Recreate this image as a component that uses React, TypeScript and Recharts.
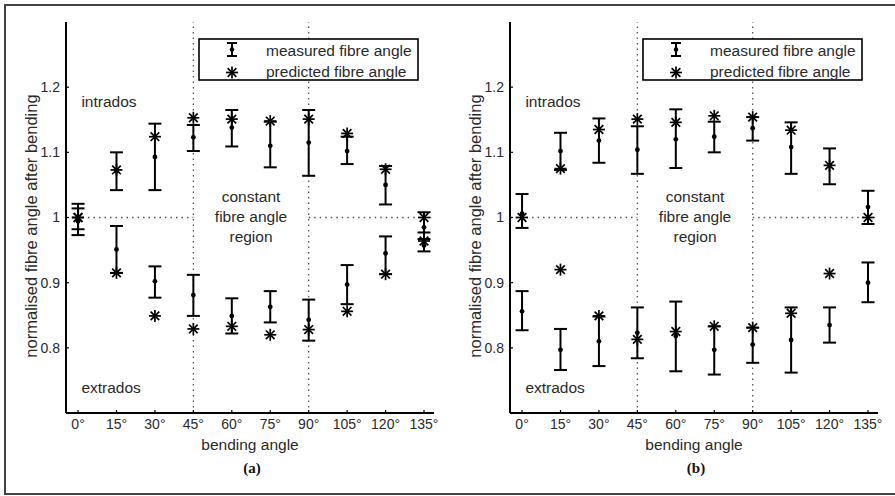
import React from 'react';
import { ComposedChart, Scatter, ErrorBar, XAxis, YAxis, ReferenceLine, ReferenceDot, Legend } from 'recharts';

const angles = [0, 15, 30, 45, 60, 75, 90, 105, 120, 135];
const yTicks = [0.8, 0.9, 1, 1.1, 1.2];

// panel (a)
const inMeanA = [1.0, 1.071, 1.093, 1.123, 1.138, 1.11, 1.115, 1.102, 1.05, 0.985];
const inLowA = [0.982, 1.042, 1.042, 1.102, 1.109, 1.077, 1.064, 1.082, 1.02, 0.967];
const inHighA = [1.021, 1.1, 1.144, 1.142, 1.165, 1.147, 1.165, 1.124, 1.079, 1.008];
const inPredA = [1.0, 1.073, 1.124, 1.153, 1.151, 1.148, 1.151, 1.129, 1.074, 1.0];
const exMeanA = [0.994, 0.951, 0.902, 0.881, 0.849, 0.863, 0.843, 0.897, 0.945, 0.957];
const exLowA = [0.973, 0.915, 0.877, 0.849, 0.822, 0.839, 0.811, 0.867, 0.913, 0.948];
const exHighA = [1.014, 0.987, 0.925, 0.912, 0.876, 0.887, 0.874, 0.927, 0.971, 0.977];
const exPredA = [1.0, 0.915, 0.849, 0.829, 0.833, 0.82, 0.828, 0.856, 0.913, 0.964];

// panel (b)
const inMeanB = [1.006, 1.102, 1.118, 1.104, 1.12, 1.124, 1.137, 1.108, 1.08, 1.016];
const inLowB = [0.984, 1.073, 1.084, 1.067, 1.076, 1.1, 1.118, 1.067, 1.051, 0.99];
const inHighB = [1.036, 1.13, 1.152, 1.14, 1.166, 1.147, 1.154, 1.146, 1.106, 1.041];
const inPredB = [1.0, 1.075, 1.135, 1.151, 1.146, 1.156, 1.154, 1.134, 1.08, 1.0];
const exMeanB = [0.856, 0.797, 0.81, 0.823, 0.818, 0.797, 0.805, 0.812, 0.835, 0.9];
const exLowB = [0.827, 0.766, 0.772, 0.784, 0.764, 0.759, 0.777, 0.762, 0.808, 0.87];
const exHighB = [0.887, 0.829, 0.848, 0.862, 0.871, 0.833, 0.831, 0.862, 0.862, 0.931];
const exPredB = [null, 0.92, 0.849, 0.813, 0.825, 0.833, 0.831, 0.853, 0.914, null];

const FONT = '"Liberation Sans", Arial, Helvetica, sans-serif';
const INK = '#2a2a2a';
const X_DOMAIN = [-4.7, 138.9];

type Pt = { x: number; y: number; err?: number[] };

const measured = (mean: number[], lo: number[], hi: number[]): Pt[] =>
  angles.map((x, i) => ({ x, y: mean[i], err: [mean[i] - lo[i], hi[i] - mean[i]] }));

const predicted = (vals: (number | null)[]): Pt[] =>
  angles.flatMap((x, i) => (vals[i] == null ? [] : [{ x, y: vals[i] as number }]));

const Dot = (p: any) => <circle cx={p.cx} cy={p.cy} r={2.4} fill="#000" />;

const Star = (p: any) => {
  const { cx, cy } = p;
  const r = 6;
  const d = r * 0.72;
  return (
    <g stroke="#000" strokeWidth={1.7}>
      <line x1={cx - r} y1={cy} x2={cx + r} y2={cy} />
      <line x1={cx} y1={cy - r} x2={cx} y2={cy + r} />
      <line x1={cx - d} y1={cy - d} x2={cx + d} y2={cy + d} />
      <line x1={cx - d} y1={cy + d} x2={cx + d} y2={cy - d} />
    </g>
  );
};

const LegendBox = () => (
  <svg width={221} height={43} style={{ display: 'block' }}>
    <rect x={1} y={1} width={219} height={41} fill="#fff" stroke="#000" strokeWidth={1.6} />
    <g stroke="#000" strokeWidth={2}>
      <line x1={34} y1={5} x2={34} y2={18} />
      <line x1={29} y1={5} x2={39} y2={5} />
      <line x1={29} y1={18} x2={39} y2={18} />
    </g>
    <circle cx={34} cy={11.5} r={2.2} fill="#000" />
    <Star cx={34} cy={34.5} />
    <text x={68} y={18} fontFamily={FONT} fontSize={15.5} fill={INK}>measured fibre angle</text>
    <text x={68} y={38.5} fontFamily={FONT} fontSize={15.5} fill={INK}>predicted fibre angle</text>
  </svg>
);

const note = (lines: string[], anchor: 'start' | 'middle', dys: number[]) => (p: any) => {
  const { x, y } = p.viewBox;
  return (
    <text textAnchor={anchor} fontFamily={FONT} fontSize={15.5} fill={INK}>
      {lines.map((l, i) => (
        <tspan key={i} x={x} y={y + dys[i]}>{l}</tspan>
      ))}
    </text>
  );
};

const dotted = { stroke: '#555', strokeWidth: 1.3, strokeDasharray: '1.5 4' };

type PanelProps = {
  left: number;
  caption: string;
  inM: Pt[];
  exM: Pt[];
  inP: Pt[];
  exP: Pt[];
};

function Panel({ left, caption, inM, exM, inP, exP }: PanelProps) {
  return (
    <div style={{ position: 'absolute', left, top: 0 }}>
      <ComposedChart width={445} height={496} margin={{ top: 22, right: 11, bottom: 53, left: 0 }}>
        <XAxis
          type="number"
          dataKey="x"
          domain={X_DOMAIN}
          ticks={angles}
          interval={0}
          allowDataOverflow
          tickFormatter={(v: number) => `${v}°`}
          height={30}
          tickSize={-3}
          tickMargin={9}
          axisLine={{ stroke: '#000', strokeWidth: 2 }}
          tickLine={{ stroke: '#000', strokeWidth: 1.2 }}
          tick={{ fill: INK, fontSize: 14, fontFamily: FONT }}
          label={{
            content: () => (
              <g>
                <text x={250} y={450} textAnchor="middle" fontFamily={FONT} fontSize={15.5} fill={INK}>bending angle</text>
                <text x={252} y={473} textAnchor="middle" fontFamily='"Liberation Serif", "Times New Roman", serif' fontSize={15} fontWeight="bold" fill="#111">{caption}</text>
              </g>
            ),
          }}
        />
        <YAxis
          type="number"
          dataKey="y"
          domain={[0.7, 1.3]}
          ticks={yTicks}
          allowDataOverflow
          width={66}
          tickFormatter={(v: number) => (v === 1 ? '1' : v.toFixed(1))}
          tickSize={-3}
          tickMargin={9}
          axisLine={{ stroke: '#000', strokeWidth: 2 }}
          tickLine={{ stroke: '#000', strokeWidth: 1.2 }}
          tick={{ fill: INK, fontSize: 14, fontFamily: FONT }}
          label={{
            content: () => (
              <text x={31} y={226} transform="rotate(-90 31 226)" textAnchor="middle" dominantBaseline="central" fontFamily={FONT} fontSize={16.5} fill={INK}>
                normalised fibre angle after bending
              </text>
            ),
          }}
        />
        <ReferenceLine x={45} {...dotted} />
        <ReferenceLine x={90} {...dotted} />
        <ReferenceLine segment={[{ x: X_DOMAIN[0], y: 1 }, { x: 45, y: 1 }]} ifOverflow="visible" {...dotted} />
        <ReferenceLine segment={[{ x: 90, y: 1 }, { x: X_DOMAIN[1], y: 1 }]} ifOverflow="visible" {...dotted} />
        <ReferenceDot x={1.3} y={1.169} r={0} fill="none" stroke="none" label={note(['intrados'], 'start', [0])} />
        <ReferenceDot x={1.3} y={0.731} r={0} fill="none" stroke="none" label={note(['extrados'], 'start', [0])} />
        <ReferenceDot
          x={67.5}
          y={1}
          r={0}
          fill="none"
          stroke="none"
          label={note(['constant', 'fibre angle', 'region'], 'middle', [-15.5, 4.5, 24.5])}
        />
        <Scatter name="measured intrados" data={inM} dataKey="y" shape={Dot} isAnimationActive={false}>
          <ErrorBar dataKey="err" direction="y" width={6.5} stroke="#000" strokeWidth={2} isAnimationActive={false} />
        </Scatter>
        <Scatter name="measured extrados" data={exM} dataKey="y" shape={Dot} isAnimationActive={false}>
          <ErrorBar dataKey="err" direction="y" width={6.5} stroke="#000" strokeWidth={2} isAnimationActive={false} />
        </Scatter>
        <Scatter name="predicted intrados" data={inP} dataKey="y" shape={Star} isAnimationActive={false} />
        <Scatter name="predicted extrados" data={exP} dataKey="y" shape={Star} isAnimationActive={false} />
        <Legend
          layout="horizontal"
          align="center"
          verticalAlign="middle"
          content={() => <LegendBox />}
          wrapperStyle={{ left: 198, top: 38, width: 221, height: 43 }}
        />
      </ComposedChart>
    </div>
  );
}

export default function App() {
  return (
    <div style={{ position: 'absolute', left: 0, top: 0, width: 895, height: 496, background: '#fff', overflow: 'hidden' }}>
      <div
        style={{
          position: 'absolute',
          left: 4,
          top: 4,
          width: 920,
          height: 491,
          border: '2px solid #444',
          borderRight: 'none',
          boxSizing: 'border-box',
        }}
      />
      <Panel
        left={0}
        caption="(a)"
        inM={measured(inMeanA, inLowA, inHighA)}
        exM={measured(exMeanA, exLowA, exHighA)}
        inP={predicted(inPredA)}
        exP={predicted(exPredA)}
      />
      <Panel
        left={444}
        caption="(b)"
        inM={measured(inMeanB, inLowB, inHighB)}
        exM={measured(exMeanB, exLowB, exHighB)}
        inP={predicted(inPredB)}
        exP={predicted(exPredB)}
      />
    </div>
  );
}
